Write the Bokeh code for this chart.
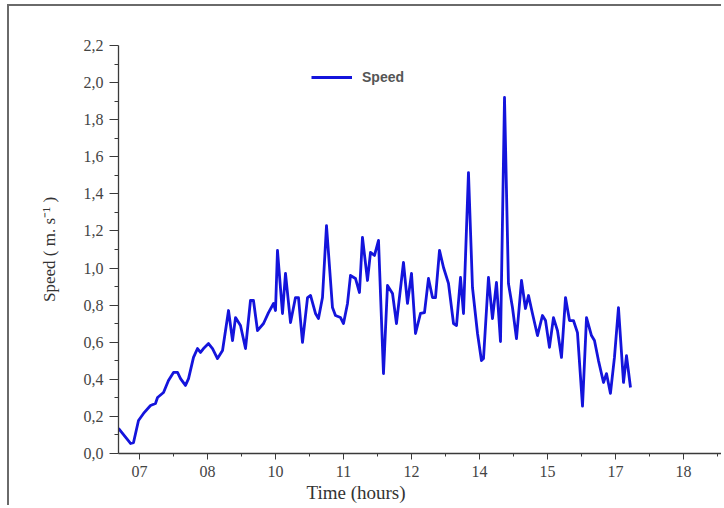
from bokeh.plotting import figure
from bokeh.models import (FixedTicker, CustomJSTickFormatter, Range1d, Legend,
                          LegendItem, Title)
from bokeh.embed import file_html
from bokeh.resources import INLINE

# Tick positions along the time axis and their printed labels
tick_pos = [1, 2, 3, 4, 5, 6, 7, 8, 9]
tick_labels = ["07", "08", "10", "11", "12", "14", "15", "17", "18"]

# Time (in axis-tick units) and speed (m/s)
time_pos = [0.691, 0.868, 0.912, 0.985, 1.059, 1.162, 1.235, 1.265, 1.353, 1.426,
            1.500, 1.559, 1.603, 1.676, 1.721, 1.794, 1.853, 1.897, 1.941, 2.015,
            2.074, 2.147, 2.221, 2.309, 2.368, 2.412, 2.485, 2.559, 2.632, 2.676,
            2.735, 2.824, 2.897, 2.971, 3.000, 3.029, 3.103, 3.147, 3.221, 3.294,
            3.338, 3.397, 3.471, 3.515, 3.588, 3.632, 3.691, 3.750, 3.838, 3.882,
            3.956, 4.000, 4.059, 4.103, 4.176, 4.235, 4.279, 4.353, 4.397, 4.456,
            4.515, 4.588, 4.647, 4.721, 4.779, 4.882, 4.941, 5.000, 5.059, 5.132,
            5.191, 5.250, 5.309, 5.353, 5.412, 5.471, 5.544, 5.618, 5.662, 5.721,
            5.765, 5.838, 5.897, 5.971, 6.029, 6.059, 6.132, 6.191, 6.250, 6.309,
            6.368, 6.426, 6.485, 6.544, 6.618, 6.676, 6.721, 6.779, 6.853, 6.926,
            6.971, 7.029, 7.088, 7.147, 7.206, 7.265, 7.324, 7.382, 7.441, 7.515,
            7.574, 7.647, 7.691, 7.750, 7.824, 7.868, 7.926, 7.985, 8.044, 8.118,
            8.162, 8.221]
speed = [0.135, 0.054, 0.059, 0.178, 0.216, 0.259, 0.270, 0.302, 0.329, 0.394,
         0.437, 0.437, 0.404, 0.367, 0.404, 0.518, 0.566, 0.545, 0.566, 0.593,
         0.566, 0.512, 0.555, 0.771, 0.609, 0.733, 0.690, 0.566, 0.825, 0.825,
         0.663, 0.701, 0.760, 0.809, 0.771, 1.095, 0.755, 0.971, 0.706, 0.841,
         0.841, 0.599, 0.841, 0.852, 0.755, 0.728, 0.841, 1.229, 0.787, 0.744,
         0.733, 0.701, 0.809, 0.960, 0.944, 0.868, 1.165, 0.933, 1.084, 1.068,
         1.149, 0.431, 0.906, 0.863, 0.701, 1.030, 0.809, 0.971, 0.647, 0.755,
         0.760, 0.944, 0.841, 0.841, 1.095, 1.003, 0.917, 0.701, 0.690, 0.949,
         0.755, 1.515, 0.895, 0.647, 0.501, 0.512, 0.949, 0.728, 0.922, 0.604,
         1.920, 0.917, 0.787, 0.620, 0.933, 0.782, 0.852, 0.755, 0.636, 0.744,
         0.717, 0.572, 0.733, 0.663, 0.518, 0.841, 0.717, 0.717, 0.652, 0.255,
         0.733, 0.636, 0.609, 0.501, 0.383, 0.431, 0.324, 0.518, 0.787, 0.383,
         0.528, 0.356]

y_ticks = [0.0, 0.2, 0.4, 0.6, 0.8, 1.0, 1.2, 1.4, 1.6, 1.8, 2.0, 2.2]

SERIF = "Liberation Serif"
AXIS_COLOR = "#3a3a3a"
LINE_COLOR = "#1414dc"

p = figure(width=714, height=501, output_backend="svg", toolbar_location=None,
           x_range=Range1d(0.691, 9.574), y_range=Range1d(0.0, 2.2),
           min_border_left=109, min_border_right=1, min_border_top=39,
           min_border_bottom=54)
p.styles = {"margin-left": "7px", "margin-top": "4px",
            "border-top": "2px solid #6a6a6a", "border-left": "2px solid #6a6a6a"}
p.outline_line_color = None
p.xgrid.grid_line_color = None
p.ygrid.grid_line_color = None
p.background_fill_color = "white"
p.border_fill_color = "white"

r = p.line(time_pos, speed, line_color=LINE_COLOR, line_width=2.8,
           line_join="round")

# X axis
xa = p.xaxis[0]
xa.ticker = FixedTicker(ticks=tick_pos,
                        minor_ticks=[t + 0.5 for t in tick_pos])
xa.major_label_overrides = {t: lab for t, lab in zip(tick_pos, tick_labels)}
xa.axis_line_color = AXIS_COLOR
xa.axis_line_width = 1.3
xa.major_tick_line_color = AXIS_COLOR
xa.minor_tick_line_color = AXIS_COLOR
xa.major_tick_in = 0
xa.major_tick_out = 6
xa.minor_tick_in = 0
xa.minor_tick_out = 3
xa.major_label_standoff = 6
xa.major_label_text_font = SERIF
xa.major_label_text_font_size = "16px"
xa.major_label_text_color = "#444444"

# Y axis
ya = p.yaxis[0]
ya.ticker = FixedTicker(ticks=y_ticks,
                        minor_ticks=[t + 0.1 for t in y_ticks[:-1]])
ya.formatter = CustomJSTickFormatter(code="return tick.toFixed(1).replace('.', ',');")
ya.axis_line_color = AXIS_COLOR
ya.axis_line_width = 1.3
ya.major_tick_line_color = AXIS_COLOR
ya.minor_tick_line_color = AXIS_COLOR
ya.major_tick_in = 0
ya.major_tick_out = 9
ya.minor_tick_in = 0
ya.minor_tick_out = 4
ya.major_label_standoff = 6
ya.major_label_text_font = SERIF
ya.major_label_text_font_size = "16px"
ya.major_label_text_color = "#444444"
ya.axis_label = "Speed ( m. s\u207b\u00b9 )"
ya.axis_label_text_font = SERIF
ya.axis_label_text_font_style = "normal"
ya.axis_label_text_font_size = "17px"
ya.axis_label_text_color = "#333333"
ya.axis_label_standoff = 22

# X axis title, placed left of centre under the axis as in the reference
p.add_layout(Title(text="Time (hours)", align="left", offset=188, standoff=0,
                   text_font=SERIF, text_font_size="19px",
                   text_font_style="normal", text_color="#333333"), "below")

legend = Legend(items=[LegendItem(label="Speed", renderers=[r])],
                location=(193, 366), border_line_color=None,
                background_fill_alpha=0, padding=0, margin=0, spacing=0,
                glyph_width=41, glyph_height=20, label_height=20,
                label_standoff=10, label_text_font="Liberation Sans",
                label_text_font_style="bold", label_text_font_size="14px",
                label_text_color="#555555")
p.add_layout(legend)

open("out.html", "w").write(file_html(p, INLINE))
